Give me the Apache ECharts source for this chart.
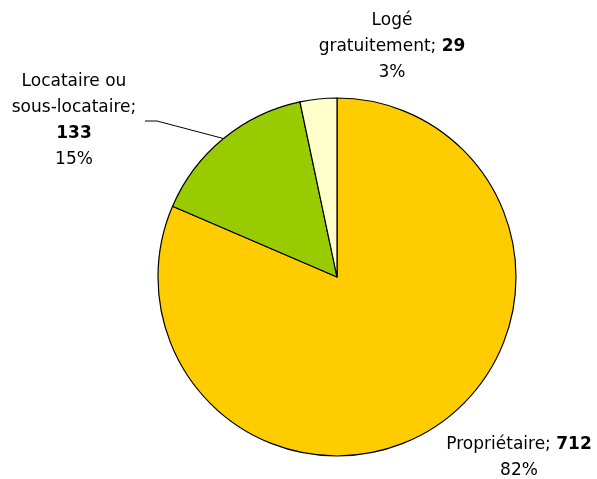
<!DOCTYPE html>
<html>
<head>
<meta charset="utf-8">
<script src="https://cdn.jsdelivr.net/npm/echarts@6/dist/echarts.min.js"></script>
<style>
html,body{margin:0;padding:0;background:#fff;}
#chart{width:597px;height:479px;}
</style>
</head>
<body>
<div id="chart"></div>
<script>
const categories = ['Propriétaire', 'Locataire ou\nsous-locataire', 'Logé\ngratuitement'];
const values = [712, 133, 29];
const percentLabels = ['82%', '15%', '3%'];
const valueOnOwnLine = [false, true, false];

const colors = ['#FFCC00', '#99CC00', '#FFFFCC'];
const labelPos = [[519, 458], [74, 121], [392, 47]];

const chart = echarts.init(document.getElementById('chart'));
const data = categories.map((c, i) => ({
  name: c,
  value: values[i],
  itemStyle: { color: colors[i] },
  labelLine: { show: i === 1, lineStyle: { color: '#000', width: 1 } }
}));

chart.setOption({
  animation: false,
  backgroundColor: '#fff',
  series: [{
    type: 'pie',
    center: [337, 277],
    radius: 179,
    startAngle: 90,
    clockwise: true,
    data: data,
    itemStyle: { borderColor: '#000', borderWidth: 1.2 },
    emphasis: { disabled: true },
    label: {
      show: true,
      position: 'outside',
      color: '#000',
      fontFamily: 'DejaVu Sans',
      fontSize: 17,
      lineHeight: 26,
      align: 'center',
      overflow: 'none',
      width: 300,
      formatter: p => {
        const i = p.dataIndex;
        return categories[i] + ';' + (valueOnOwnLine[i] ? '\n' : ' ') +
          '{b|' + values[i] + '}\n' + percentLabels[i];
      },
      rich: {
        b: { fontWeight: 'bold', fontFamily: 'DejaVu Sans', fontSize: 17, lineHeight: 26, color: '#000' }
      }
    },
    labelLine: { length: 20, length2: 10 },
    labelLayout: p => {
      const i = p.dataIndex;
      const out = { x: labelPos[i][0], y: labelPos[i][1], align: 'center', verticalAlign: 'middle' };
      if (i === 1 && p.labelLinePoints) {
        const start = p.labelLinePoints[0];
        out.labelLinePoints = [start, [157, 121], [145, 121]];
      }
      return out;
    }
  }]
});
</script>
</body>
</html>
